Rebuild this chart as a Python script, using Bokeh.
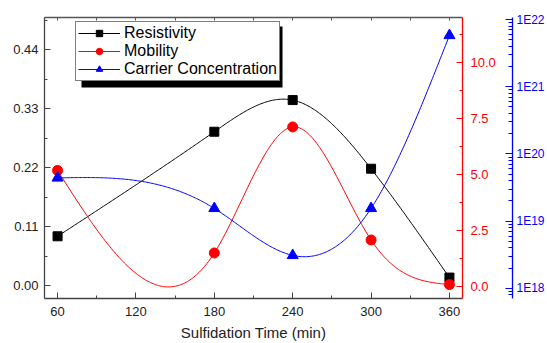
import numpy as np
from bokeh.plotting import figure
from bokeh.models import (Range1d, LinearAxis, LogAxis, LogScale, FixedTicker, BoxAnnotation,
                          NumeralTickFormatter, CustomJSTickFormatter, Legend, LegendItem)
from bokeh.embed import file_html
from bokeh.resources import INLINE

# ---- data ----
time_min = [60, 180, 240, 300, 360]
resistivity = [0.092, 0.287, 0.346, 0.218, 0.015]
mobility = [5.18, 1.50, 7.12, 2.08, 0.09]
carrier = [4.4e19, 1.55e19, 3.1e18, 1.55e19, 5.8e21]

x_ticks = [60, 120, 180, 240, 300, 360]
left_ticks = [0.0, 0.11, 0.22, 0.33, 0.44]
red_ticks = [0.0, 2.5, 5.0, 7.5, 10.0]
blue_decades = [18, 19, 20, 21, 22]

FONT = "Liberation Sans"


def natural_spline(x, y, n=300):
    x = np.asarray(x, float)
    y = np.asarray(y, float)
    m = len(x)
    h = np.diff(x)
    A = np.zeros((m, m))
    b = np.zeros(m)
    A[0, 0] = 1
    A[-1, -1] = 1
    for i in range(1, m - 1):
        A[i, i - 1] = h[i - 1]
        A[i, i] = 2 * (h[i - 1] + h[i])
        A[i, i + 1] = h[i]
        b[i] = 3 * ((y[i + 1] - y[i]) / h[i] - (y[i] - y[i - 1]) / h[i - 1])
    c = np.linalg.solve(A, b)
    xs = np.linspace(x[0], x[-1], n)
    idx = np.clip(np.searchsorted(x, xs, side="right") - 1, 0, m - 2)
    dx = xs - x[idx]
    hi = h[idx]
    bb = (y[idx + 1] - y[idx]) / hi - hi * (2 * c[idx] + c[idx + 1]) / 3
    dd = (c[idx + 1] - c[idx]) / (3 * hi)
    ys = y[idx] + bb * dx + c[idx] * dx ** 2 + dd * dx ** 3
    return xs, ys


p = figure(width=547, height=343, output_backend="svg", toolbar_location=None,
           x_range=Range1d(50, 370), y_range=Range1d(-0.024, 0.50),
           min_border_left=44, min_border_top=17, min_border_bottom=43, min_border_right=83)
p.xgrid.visible = False
p.ygrid.visible = False
p.outline_line_color = None
p.background_fill_color = "white"

p.extra_y_ranges = {"mob": Range1d(-0.53, 12.0),
                    "cc": Range1d(10 ** 17.85, 10 ** 22.03)}
p.extra_y_scales = {"cc": LogScale()}

# curves
xs, ys = natural_spline(time_min, resistivity)
l1 = p.line(xs, ys, line_color="black", line_width=1)
s1 = p.scatter(time_min, resistivity, marker="square", size=9, color="black")

xs, ys = natural_spline(time_min, mobility)
l2 = p.line(xs, ys, line_color="red", line_width=1, y_range_name="mob")
s2 = p.scatter(time_min, mobility, marker="circle", size=10, color="red", y_range_name="mob")

xs, ys = natural_spline(time_min, np.log10(carrier))
l3 = p.line(xs, 10 ** ys, line_color="blue", line_width=1, y_range_name="cc")
s3 = p.scatter(time_min, carrier, marker="triangle", size=11, color="blue", y_range_name="cc")


def style(ax, color, tick_in=6, minor_in=3, size="13px"):
    ax.axis_line_color = color
    ax.major_tick_line_color = color
    ax.minor_tick_line_color = color
    ax.major_tick_in = tick_in
    ax.major_tick_out = 0
    ax.minor_tick_in = minor_in
    ax.minor_tick_out = 0
    ax.major_label_text_font = FONT
    ax.major_label_text_font_size = size
    ax.axis_line_width = 1.3


xa = p.xaxis[0]
xa.ticker = FixedTicker(ticks=x_ticks, minor_ticks=[90, 150, 210, 270, 330])
style(xa, "#444444")
xa.major_label_text_color = "#222222"
xa.major_label_standoff = 8
xa.axis_label = "Sulfidation Time (min)"
xa.axis_label_text_font = FONT
xa.axis_label_text_font_size = "15px"
xa.axis_label_text_font_style = "normal"
xa.axis_label_text_color = "#222222"
xa.axis_label_standoff = 5

ya = p.yaxis[0]
ya.ticker = FixedTicker(ticks=left_ticks, minor_ticks=[0.055, 0.165, 0.275, 0.385, 0.495])
ya.formatter = NumeralTickFormatter(format="0.00")
style(ya, "#444444")
ya.major_label_text_color = "#222222"
ya.major_label_standoff = 6

top = LinearAxis(ticker=FixedTicker(ticks=x_ticks, minor_ticks=[90, 150, 210, 270, 330]),
                 major_label_text_font_size="0px")
style(top, "#555555", tick_in=3, minor_in=3, size="0px")
top.major_label_text_alpha = 0
p.add_layout(top, "above")

ra = LinearAxis(y_range_name="mob",
                ticker=FixedTicker(ticks=red_ticks, minor_ticks=[1.25, 3.75, 6.25, 8.75, 11.25]),
                formatter=NumeralTickFormatter(format="0.0"))
style(ra, "red")
ra.major_label_text_color = "red"
ra.major_label_standoff = 8
ra.axis_label = " "
ra.axis_label_text_font_size = "10px"
ra.axis_label_standoff = 0
p.add_layout(ra, "right")

minor_cc = [k * 10.0 ** e for e in range(17, 22) for k in range(2, 10)]
ba = LogAxis(y_range_name="cc",
             ticker=FixedTicker(ticks=[10.0 ** e for e in blue_decades], minor_ticks=minor_cc),
             formatter=CustomJSTickFormatter(code="return '1E' + Math.round(Math.log10(tick));"))
style(ba, "blue", tick_in=7, minor_in=4, size="12px")
ba.major_label_text_color = "blue"
ba.major_label_standoff = 4
p.add_layout(ba, "right")

# legend drop shadow (screen units: x from frame left, y up from frame bottom)
shadow = BoxAnnotation(left=37, right=238, top=272, bottom=211,
                       left_units="screen", right_units="screen",
                       top_units="screen", bottom_units="screen",
                       fill_color="black", fill_alpha=1, line_color=None)
p.add_layout(shadow)

items = [LegendItem(label="Resistivity", renderers=[l1, s1]),
         LegendItem(label="Mobility", renderers=[l2, s2]),
         LegendItem(label="Carrier Concentration", renderers=[l3, s3])]

lg = Legend(items=items, location=(31, 217))
lg.label_text_font = FONT
lg.label_text_font_size = "16px"
lg.label_text_color = "black"
lg.glyph_width = 42
lg.glyph_height = 16
lg.label_height = 16
lg.spacing = 0
lg.padding = 2
lg.margin = 0
lg.label_standoff = 4
lg.border_line_color = "black"
lg.border_line_width = 1
lg.background_fill_alpha = 1
lg.background_fill_color = "white"
p.add_layout(lg, "center")

open("out.html", "w").write(file_html(p, INLINE))
